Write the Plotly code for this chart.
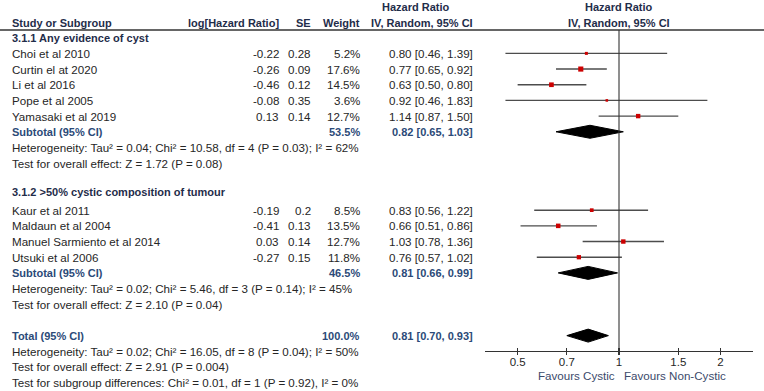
import math
import plotly.graph_objects as go

# ---------------- data ----------------
group_titles = ["3.1.1 Any evidence of cyst", "3.1.2 >50% cystic composition of tumour"]

studies1 = ["Choi et al 2010", "Curtin el at 2020", "Li et al 2016", "Pope et al 2005", "Yamasaki et al 2019"]
loghr1 = [-0.22, -0.26, -0.46, -0.08, 0.13]
se1 = [0.28, 0.09, 0.12, 0.35, 0.14]
weight1 = [5.2, 17.6, 14.5, 3.6, 12.7]
hr1 = [0.80, 0.77, 0.63, 0.92, 1.14]
lo1 = [0.46, 0.65, 0.50, 0.46, 0.87]
hi1 = [1.39, 0.92, 0.80, 1.83, 1.50]
sub1 = [53.5, 0.82, 0.65, 1.03]
het1 = "Heterogeneity: Tau² = 0.04; Chi² = 10.58, df = 4 (P = 0.03); I² = 62%"
test1 = "Test for overall effect: Z = 1.72 (P = 0.08)"

studies2 = ["Kaur et al 2011", "Maldaun et al 2004", "Manuel Sarmiento et al 2014", "Utsuki et al 2006"]
loghr2 = [-0.19, -0.41, 0.03, -0.27]
se2 = [0.2, 0.13, 0.14, 0.15]
weight2 = [8.5, 13.5, 12.7, 11.8]
hr2 = [0.83, 0.66, 1.03, 0.76]
lo2 = [0.56, 0.51, 0.78, 0.57]
hi2 = [1.22, 0.86, 1.36, 1.02]
sub2 = [46.5, 0.81, 0.66, 0.99]
het2 = "Heterogeneity: Tau² = 0.02; Chi² = 5.46, df = 3 (P = 0.14); I² = 45%"
test2 = "Test for overall effect: Z = 2.10 (P = 0.04)"

total = [100.0, 0.81, 0.70, 0.93]
het_total = "Heterogeneity: Tau² = 0.02; Chi² = 16.05, df = 8 (P = 0.04); I² = 50%"
test_total = "Test for overall effect: Z = 2.91 (P = 0.004)"
test_sub = "Test for subgroup differences: Chi² = 0.01, df = 1 (P = 0.92), I² = 0%"

tick_vals = [0.5, 0.7, 1, 1.5, 2]
tick_text = ["0.5", "0.7", "1", "1.5", "2"]
favours_left = "Favours Cystic"
favours_right = "Favours Non-Cystic"

# ---------------- layout constants ----------------
W, H = 764, 391
ROW0 = 37.7
DY = 15.68
FONT = "Liberation Sans, Arial, sans-serif"
FS = 11.6
FSB = 11
TXT = "#262626"
HEAD = "#1f2d4a"
SUBC = "#2b4a78"
X_NAME, X_LOG, X_SE, X_W, X_CI = 12, 279, 311, 360, 473
AXIS_Y = 350.7
HEADER_LINE_Y = 30

def ry(i):
    return ROW0 + i * DY

fig = go.Figure()
ann = []

def txt(x, y, s, anchor="left", bold=False, color=TXT, xref="paper", xshift=0):
    ann.append(dict(
        x=x / W if xref == "paper" else x, y=y, xref=xref, yref="y",
        text=f"<b>{s}</b>" if bold else s, showarrow=False,
        xanchor=anchor, yanchor="middle", xshift=xshift,
        borderpad=0, borderwidth=0,
        font=dict(family=FONT, size=FSB if bold else FS, color=color)))

# headers
txt(416, 6.7, "Hazard Ratio", "center", True, HEAD)
txt(X_NAME, 22.7, "Study or Subgroup", "left", True, HEAD)
txt(X_LOG, 22.7, "log[Hazard Ratio]", "right", True, HEAD)
txt(X_SE, 22.7, "SE", "right", True, HEAD)
txt(X_W, 22.7, "Weight", "right", True, HEAD)
txt(X_CI, 22.7, "IV, Random, 95% CI", "right", True, HEAD)
txt(0, 6.7, "Hazard Ratio", "center", True, HEAD, xref="x")
txt(0, 22.7, "IV, Random, 95% CI", "center", True, HEAD, xref="x")

groups = [
    (group_titles[0], studies1, loghr1, se1, weight1, hr1, lo1, hi1, sub1, het1, test1, 0),
    (group_titles[1], studies2, loghr2, se2, weight2, hr2, lo2, hi2, sub2, het2, test2, 10),
]

def diamond(y, est, lo, hi):
    h = 6.5
    fig.add_trace(go.Scatter(
        x=[lo, est, hi, est, lo], y=[y, y - h, y, y + h, y],
        mode="lines", fill="toself", fillcolor="black",
        line=dict(color="black", width=1), hoverinfo="skip", showlegend=False))

for (title, names, lh, se, wts, hr, lo, hi, sub, het, test, start) in groups:
    txt(X_NAME, ry(start) - (3 if start else 0), title, "left", True, HEAD)
    for k, nm in enumerate(names):
        y = ry(start + 1 + k)
        txt(X_NAME, y, nm)
        txt(X_LOG, y, str(lh[k]), "right")
        txt(X_SE, y, str(se[k]), "right")
        txt(X_W, y, f"{wts[k]:.1f}%", "right")
        txt(X_CI, y, f"{hr[k]:.2f} [{lo[k]:.2f}, {hi[k]:.2f}]", "right")
        fig.add_trace(go.Scatter(
            x=[lo[k], hi[k]], y=[y, y], mode="lines",
            line=dict(color="#4d4d4d", width=1.4), hoverinfo="skip", showlegend=False))
        fig.add_trace(go.Scatter(
            x=[hr[k]], y=[y], mode="markers",
            marker=dict(symbol="square", color="#cc0000", size=1.1 * math.sqrt(wts[k]) + 0.5,
                        line=dict(width=0)),
            hoverinfo="skip", showlegend=False))
    n = len(names)
    ys = ry(start + 1 + n)
    txt(X_NAME, ys, "Subtotal (95% CI)", "left", True, SUBC)
    txt(X_W, ys, f"{sub[0]:.1f}%", "right", True, SUBC)
    txt(X_CI, ys, f"{sub[1]:.2f} [{sub[2]:.2f}, {sub[3]:.2f}]", "right", True, SUBC)
    diamond(ys, sub[1], sub[2], sub[3])
    txt(X_NAME, ry(start + 2 + n), het)
    txt(X_NAME, ry(start + 3 + n), test)

yt = ry(19)
txt(X_NAME, yt, "Total (95% CI)", "left", True, SUBC)
txt(X_W, yt, f"{total[0]:.1f}%", "right", True, SUBC)
txt(X_CI, yt, f"{total[1]:.2f} [{total[2]:.2f}, {total[3]:.2f}]", "right", True, SUBC)
diamond(yt, total[1], total[2], total[3])
txt(X_NAME, ry(20), het_total)
txt(X_NAME, ry(21), test_total)
txt(X_NAME, ry(22), test_sub)

# favours labels
txt(0, 375, favours_left, "right", False, "#3b4a6b", xref="x", xshift=-4)
txt(0, 375, favours_right, "left", False, "#3b4a6b", xref="x", xshift=5)

shapes = [
    dict(type="line", xref="paper", yref="y", x0=0, x1=1, y0=HEADER_LINE_Y, y1=HEADER_LINE_Y,
         line=dict(color="#333333", width=1.3)),
    dict(type="line", xref="x", yref="y", x0=1, x1=1, y0=HEADER_LINE_Y, y1=AXIS_Y,
         line=dict(color="#333333", width=1.1)),
]

xr = [math.log10(0.4), math.log10(2.5)]
dom = [485 / W, 753 / W]
pos = (H - AXIS_Y) / H
axis_common = dict(type="log", range=xr, domain=dom, anchor="free", position=pos,
                   tickvals=tick_vals, showgrid=False, zeroline=False, tickwidth=1.2,
                   tickcolor="#333333", fixedrange=True, ticklen=3)

fig.update_layout(
    width=W, height=H, autosize=False,
    margin=dict(l=0, r=0, t=0, b=0, pad=0),
    paper_bgcolor="white", plot_bgcolor="white",
    showlegend=False,
    xaxis=dict(**axis_common, ticktext=tick_text, showline=True, linecolor="#333333",
               linewidth=1.3, ticks="inside",
               tickfont=dict(family=FONT, size=11.5, color=TXT)),
    xaxis2=dict(**axis_common, overlaying="x", showline=False, ticks="outside",
                showticklabels=False),
    yaxis=dict(range=[H, 0], domain=[0, 1], visible=False, fixedrange=True),
    annotations=ann, shapes=shapes,
)
# invisible trace to activate xaxis2
fig.add_trace(go.Scatter(x=[1], y=[AXIS_Y], xaxis="x2", yaxis="y", mode="markers",
                         marker=dict(opacity=0), hoverinfo="skip", showlegend=False))

fig.write_html("out.html", config={"displayModeBar": False, "staticPlot": True},
               post_script="document.body.style.margin='0';document.body.style.overflow='hidden';")
